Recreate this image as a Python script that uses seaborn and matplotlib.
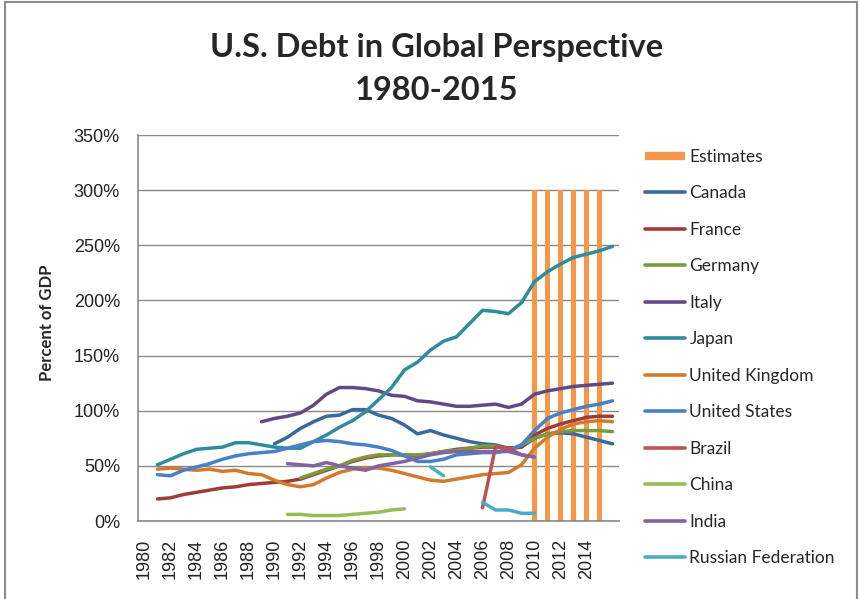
import numpy as np
import pandas as pd
import seaborn as sns
import matplotlib.pyplot as plt
from matplotlib.lines import Line2D
from matplotlib.patches import Rectangle

# chart data (percent of GDP)
years = list(range(1980, 2017))
tick_years = list(range(1980, 2015, 2))
est_years = [2010, 2011, 2012, 2013, 2014, 2015]
est_values = [300, 300, 300, 300, 300, 300]

countries = ['Canada', 'France', 'Germany', 'Italy', 'Japan', 'United Kingdom',
             'United States', 'Brazil', 'China', 'India', 'Russian Federation']
start_years = [1990, 1981, 1992, 1989, 1981, 1981, 1981, 2006, 1991, 1991, 2002]

canada = [70, 76, 84, 90, 95, 96, 101, 101, 96, 93, 87, 79, 82, 78, 75, 72, 70,
          69, 66, 67, 75, 79, 80, 79, 76, 73, 70]
france = [20, 21, 24, 26, 28, 30, 31, 33, 34, 35, 36, 38, 42, 46, 50, 54, 57, 59,
          60, 60, 59, 61, 63, 65, 66, 67, 67, 66, 67, 78, 84, 88, 91, 94, 95, 95]
germany = [39, 43, 47, 50, 55, 58, 60, 60, 60, 60, 61, 63, 64, 66, 68, 68, 64, 69,
           75, 79, 81, 82, 82, 82, 81]
italy = [90, 93, 95, 98, 105, 115, 121, 121, 120, 118, 114, 113, 109, 108, 106,
         104, 104, 105, 106, 103, 106, 115, 118, 120, 122, 123, 124, 125]
japan = [51, 56, 61, 65, 66, 67, 71, 71, 69, 67, 66, 66, 72, 78, 85, 91, 99, 110,
         121, 137, 144, 155, 163, 167, 179, 191, 190, 188, 198, 217, 226, 233, 239,
         242, 245, 249]
uk = [47, 48, 47, 46, 47, 45, 46, 43, 42, 37, 33, 31, 33, 39, 44, 47, 48, 48, 46,
      43, 40, 37, 36, 38, 40, 42, 43, 44, 51, 66, 76, 83, 88, 90, 91, 90]
us = [42, 41, 46, 49, 52, 56, 59, 61, 62, 63, 66, 69, 72, 73, 72, 70, 69, 67, 64,
      59, 54, 54, 56, 60, 61, 62, 62, 64, 69, 82, 93, 98, 101, 104, 106, 109]
brazil = [12, 67, 66, 60, 58]
china = [6, 6, 5, 5, 5, 6, 7, 8, 10, 11]
india = [52, 51, 50, 53, 50, 48, 46, 50, 52, 54, 57, 60, 62, 63, 63, 63, 63, 63,
         60, 58]
russia = [49, 41, np.nan, np.nan, 17, 10, 10, 7, 7]

colors = ['#3A699B', '#A03C38', '#7A9A3E', '#5F4A87', '#2F8C9F', '#D47A2C',
          '#4A80C6', '#C0504D', '#9BBB59', '#8064A2', '#4BACC6']
est_color = '#F79646'
grid_color = '#898989'

# long-form table; a new segment starts after every gap
rows = []
for name, start, vals in zip(countries, start_years,
                             [canada, france, germany, italy, japan, uk, us,
                              brazil, china, india, russia]):
    seg = 0
    for i, v in enumerate(vals):
        if np.isnan(v):
            seg += 1
            continue
        rows.append((name, f'{name}-{seg}', start + i, v))
df = pd.DataFrame(rows, columns=['country', 'segment', 'year', 'value'])

sns.set_style('white')
plt.rcParams['font.family'] = ['Liberation Sans', 'DejaVu Sans']

fig = plt.figure(figsize=(8.6, 5.99), dpi=100)
ax = fig.add_axes([138 / 860, 1 - 521 / 599, (619 - 138) / 860, (521 - 135) / 599])

sns.barplot(x=est_years, y=est_values, native_scale=True, width=0.4,
            color=est_color, saturation=1, linewidth=0, ax=ax)
sns.lineplot(data=df, x='year', y='value', hue='country', units='segment',
             estimator=None, hue_order=countries, palette=colors,
             linewidth=2.5, legend=False, ax=ax)

ax.set_xlim(1979.5, 2016.5)
ax.set_ylim(0, 350)
ax.set_yticks(range(0, 351, 50))
ax.set_yticklabels([f'{v}%' for v in range(0, 351, 50)])
ax.set_xticks(tick_years)
ax.set_xticklabels([str(y) for y in tick_years], rotation=90)
ax.set_xticks(np.arange(1979.5, 2017, 1), minor=True)
ax.tick_params(axis='x', which='major', length=0, pad=13, labelsize=13,
               labelcolor='#222222')
ax.tick_params(axis='x', which='minor', length=5, width=1, color=grid_color,
               direction='out')
ax.tick_params(axis='y', length=5, width=1, color=grid_color, direction='out',
               pad=8, labelsize=13, labelcolor='#222222')
ax.set_xlabel('')
ax.set_ylabel('')
ax.grid(axis='y', color=grid_color, linewidth=1)
ax.set_axisbelow(True)
for side in ['top', 'right']:
    ax.spines[side].set_visible(False)
for side in ['left', 'bottom']:
    ax.spines[side].set_color(grid_color)
    ax.spines[side].set_linewidth(1.2)

title_font = ['Lato', 'DejaVu Sans']
fig.text(437 / 860, 1 - 47 / 599, 'U.S. Debt in Global Perspective',
         ha='center', va='center', fontsize=23.5, fontweight='bold',
         family=title_font)
fig.text(437 / 860, 1 - 90 / 599, '1980-2015', ha='center', va='center',
         fontsize=23.5, fontweight='bold', family=title_font)
fig.text(47 / 860, 1 - 323 / 599, 'Percent of GDP', rotation=90, ha='center',
         va='center', fontsize=12, fontweight='bold', family=title_font)

handles = [Line2D([], [], color=est_color, linewidth=6, solid_capstyle='butt')]
handles += [Line2D([], [], color=c, linewidth=2.6) for c in colors]
labels = ['Estimates'] + countries
fig.legend(handles, labels, loc='upper left',
           bbox_to_anchor=(645 / 860, 1 - 149 / 599), frameon=False,
           prop={'family': title_font, 'size': 12.5},
           handlelength=2.3, handletextpad=0.25, labelspacing=1.18,
           borderpad=0, borderaxespad=0)

fig.patches.append(Rectangle((5 / 860, -0.05), (857 - 5) / 860, 1.05 - 2 / 599,
                             transform=fig.transFigure, fill=False,
                             edgecolor='#8c8c8c', linewidth=1.5))

fig.savefig('out.png', dpi=100)
